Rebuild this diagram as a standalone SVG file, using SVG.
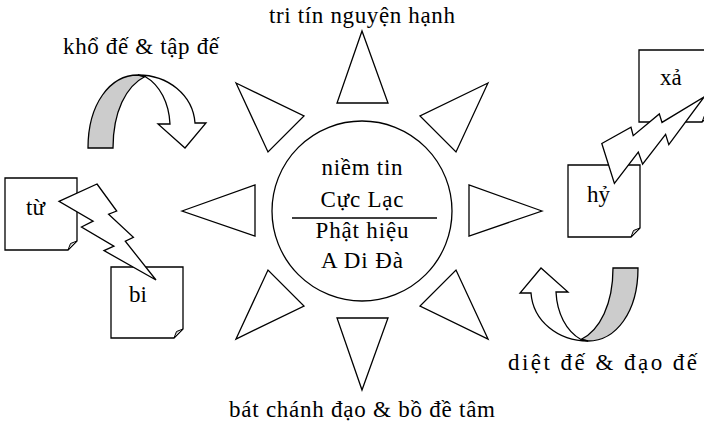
<svg xmlns="http://www.w3.org/2000/svg" width="704" height="425" viewBox="0 0 704 425">
<style>
.ln{fill:#fff;stroke:#000;stroke-width:1.3;stroke-linejoin:miter}
.sh{fill:#cccccc;stroke:#000;stroke-width:1.3}
.fold{fill:#cfcfcf;stroke:#000;stroke-width:1}
.t{font-family:"Liberation Serif","Times New Roman",serif;font-size:23px;fill:#000}
.c{text-anchor:middle}
</style>
<defs>
<g id="curved">
<path class="sh" d="M88,148 C88,104 110,75 138,75 L145,76.5 C126,86 113,112 113,148 Z"/>
<path class="ln" d="M138,75 C168,75 193,95 195,123 L206,123 L185,148 L158,124 L170,124 C169,103 160,85 145,76.5 Z"/>
</g>
</defs>
<rect width="704" height="425" fill="#fff"/>

<g id="center">
<circle class="ln" cx="362" cy="211" r="90"/>
<line x1="292" y1="218" x2="437" y2="218" stroke="#000" stroke-width="1.3"/>
<text class="t c" x="362" y="175" textLength="81" lengthAdjust="spacing">niềm tin</text>
<text class="t c" x="362" y="207" textLength="83" lengthAdjust="spacing">Cực Lạc</text>
<text class="t c" x="362" y="238" textLength="93" lengthAdjust="spacing">Phật hiệu</text>
<text class="t c" x="362" y="268" textLength="82" lengthAdjust="spacing">A Di Đà</text>
</g>

<g id="ray-top"><polygon class="ln" points="362,31 337,103 388,103"/></g>
<g id="ray-bottom"><polygon class="ln" points="337,318 388,318 362,390"/></g>
<g id="ray-left"><polygon class="ln" points="182,211 255,185 255,236"/></g>
<g id="ray-right"><polygon class="ln" points="542,211 469,185 469,236"/></g>
<g id="ray-ul"><polygon class="ln" points="236,83 304,116 268,152"/></g>
<g id="ray-ur"><polygon class="ln" points="488,83 420,116 456,152"/></g>
<g id="ray-ll"><polygon class="ln" points="236,339 268,270 304,306"/></g>
<g id="ray-lr"><polygon class="ln" points="488,339 456,270 420,306"/></g>

<g id="label-top"><text class="t c" x="362" y="23" textLength="186" lengthAdjust="spacing">tri tín nguyện hạnh</text></g>
<g id="label-bottom"><text class="t c" x="362" y="417" textLength="266" lengthAdjust="spacing">bát chánh đạo &amp; bồ đề tâm</text></g>

<g id="arrow-kho">
<use href="#curved"/>
<text class="t" x="63" y="54" textLength="156" lengthAdjust="spacing">khổ đế &amp; tập đế</text>
</g>
<g id="arrow-diet">
<use href="#curved" transform="rotate(180 363 208)"/>
<text class="t" x="508" y="370" textLength="189" lengthAdjust="spacing">diệt đế &amp; đạo đế</text>
</g>

<g id="note-tu">
<path class="ln" d="M5,178 H77 V241 L68,250 H5 Z"/>
<path class="fold" d="M68,250 L70.5,243.5 L77,241 Z"/>
<text class="t" x="26" y="215">từ</text>
</g>
<g id="note-bi">
<path class="ln" d="M111,267 H183 V329 L174,338 H111 Z"/>
<path class="fold" d="M174,338 L176.5,331.5 L183,329 Z"/>
<text class="t" x="129" y="302">bi</text>
</g>
<g id="note-hy">
<path class="ln" d="M568,165 H640 V228 L631,237 H568 Z"/>
<path class="fold" d="M631,237 L633.5,230.5 L640,228 Z"/>
<text class="t" x="587" y="202">hỷ</text>
</g>
<g id="note-xa">
<path class="ln" d="M639,50 H711 V113 L702,122 H639 Z"/>
<path class="fold" d="M702,122 L704.5,115.5 L711,113 Z"/>
<text class="t" x="660" y="85">xả</text>
</g>

<g id="connectors">
<path class="ln" d="M97,184 L116.7,211 L108.6,214.2 L133.4,237.4 L125.3,241.2 L156,280 L104,250.6 L113.9,246.2 L81.5,227 L93.1,221.2 L59,201.3 Z"/>
<path class="ln" d="M601.8,143.5 L631,127.3 L633.2,135.7 L659.3,113.9 L662,122.4 L704.3,96.7 L668.8,144.7 L665.6,134.4 L642.6,164.2 L638.3,152 L614.4,183.4 Z"/>
</g>
</svg>
